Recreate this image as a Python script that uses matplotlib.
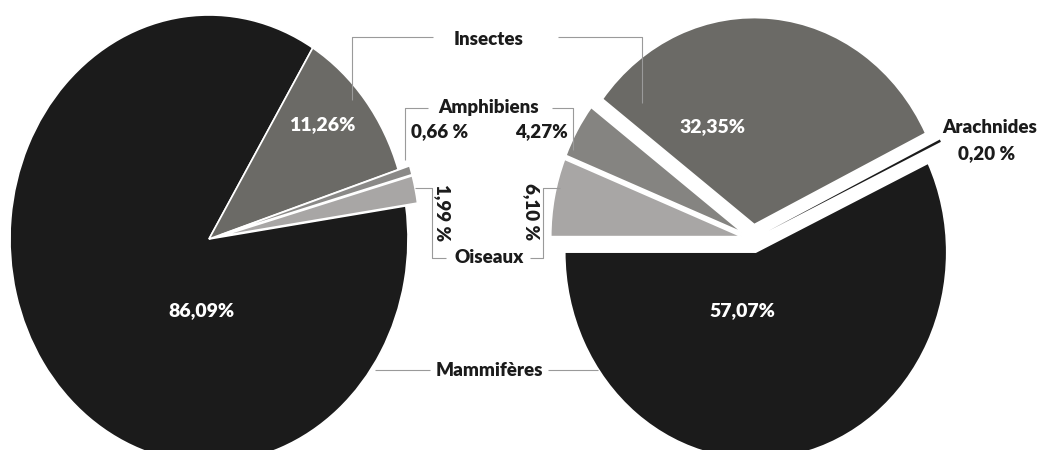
import matplotlib
matplotlib.use("Agg")
import matplotlib.pyplot as plt

plt.rcParams['font.family'] = ['Lato', 'DejaVu Sans']
plt.rcParams['font.weight'] = 'heavy'

# left pie (clockwise from the black slice)
left_labels = ['Mammifères', 'Insectes', 'Amphibiens', 'Oiseaux']
left_values = [86.09, 11.26, 0.66, 1.99]
left_colors = ['#1b1b1b', '#6b6a66', '#8a8987', '#a8a6a5']
left_explode = [0, 0, 0.06, 0.06]

# right pie (counter-clockwise from 180 deg)
right_labels = ['Mammifères', 'Arachnides', 'Insectes', 'Amphibiens', 'Oiseaux']
right_values = [57.07, 0.20, 32.35, 4.27, 6.10]
right_colors = ['#1b1b1b', '#1b1b1b', '#6b6a66', '#858481', '#a8a6a5']
right_explode = [0.065, 0.09, 0.07, 0.06, 0.06]

W, H = 1045, 450
fig = plt.figure(figsize=(W / 100, H / 100), dpi=100)


def pie_axes(cx, cy, rx, ry, lim=1.3):
    # axes placed in pixels so the pie can be an ellipse like the original
    left = (cx - lim * rx) / W
    bottom = ((H - cy) - lim * ry) / H
    ax = fig.add_axes([left, bottom, 2 * lim * rx / W, 2 * lim * ry / H])
    return ax, lim


ax1, lim = pie_axes(209, 239, 199, 224)
w1, _ = ax1.pie(left_values, colors=left_colors, explode=left_explode,
                startangle=8.5, counterclock=False,
                wedgeprops=dict(edgecolor='white', linewidth=1.2))
ax1.set_aspect('auto')
ax1.set_xlim(-lim, lim)
ax1.set_ylim(-lim, lim)

ax2, lim = pie_axes(753, 239, 191, 207)
w2, _ = ax2.pie(right_values, colors=right_colors, explode=right_explode,
                startangle=180, counterclock=True,
                wedgeprops=dict(edgecolor='white', linewidth=1.2))
w2[1].set_linewidth(0)
w2[1].set_zorder(5)
ax2.set_aspect('auto')
ax2.set_xlim(-lim, lim)
ax2.set_ylim(-lim, lim)

# overlay in pixel coordinates for labels and leader lines
ov = fig.add_axes([0, 0, 1, 1])
ov.set_xlim(0, W)
ov.set_ylim(H, 0)
ov.axis('off')
ov.patch.set_visible(False)

lc = '#9a9a9a'
lw = 0.8
leaders = [
    [(352, 100), (352, 37), (433, 37)],
    [(558, 37), (642, 37), (642, 103)],
    [(405, 160), (405, 108), (428, 108)],
    [(552, 108), (573, 108), (573, 150)],
    [(415, 188), (432, 188), (432, 258), (446, 258)],
    [(560, 188), (543, 188), (543, 258), (530, 258)],
    [(375, 370), (430, 370)],
    [(548, 370), (598, 370)],
]
for pts in leaders:
    xs, ys = zip(*pts)
    ov.plot(xs, ys, color=lc, lw=lw, solid_capstyle='butt')

fs = 13.5
tc = '#1b1b1b'
ov.text(489, 45, 'Insectes', ha='center', va='baseline', fontsize=fs, color=tc)
ov.text(489, 113, 'Amphibiens', ha='center', va='baseline', fontsize=fs, color=tc)
ov.text(440, 137, '0,66 %', ha='center', va='baseline', fontsize=fs, color=tc)
ov.text(541, 137, '4,27%', ha='center', va='baseline', fontsize=fs, color=tc)
ov.text(489, 263, 'Oiseaux', ha='center', va='baseline', fontsize=fs, color=tc)
ov.text(489, 376, 'Mammifères', ha='center', va='baseline', fontsize=fs, color=tc)
ov.text(442, 213, '1,99 %', ha='center', va='center', rotation=-90, fontsize=fs, color=tc)
ov.text(531, 212, '6,10 %', ha='center', va='center', rotation=-90, fontsize=fs, color=tc)
ov.text(990, 133, 'Arachnides', ha='center', va='baseline', fontsize=fs, color=tc)
ov.text(987, 159, '0,20 %', ha='center', va='baseline', fontsize=fs, color=tc)

fi = 14
ov.text(322, 130, '11,26%', ha='center', va='baseline', fontsize=fi, color='white')
ov.text(201, 316, '86,09%', ha='center', va='baseline', fontsize=fi, color='white')
ov.text(712, 132, '32,35%', ha='center', va='baseline', fontsize=fi, color='white')
ov.text(742, 316, '57,07%', ha='center', va='baseline', fontsize=fi, color='white')

fig.savefig('out.png', dpi=100, facecolor='white')
